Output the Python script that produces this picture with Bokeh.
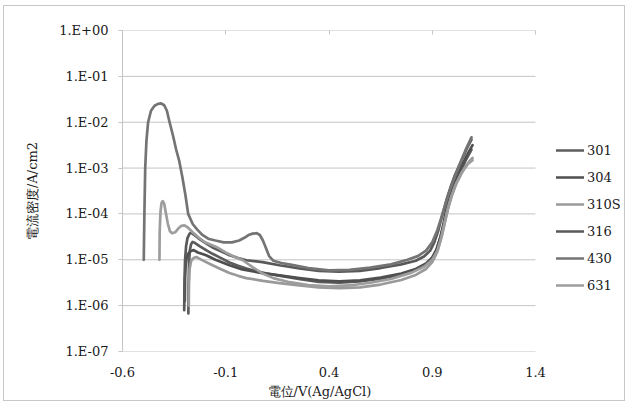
import numpy as np
from bokeh.plotting import figure
from bokeh.models import (Range1d, FixedTicker, LinearAxis, CustomJSTickFormatter,
                          Legend, LegendItem, ColumnDataSource, Title)
from bokeh.embed import file_html
from bokeh.resources import INLINE

# ---------------- data ----------------
series_names = ["301", "304", "310S", "316", "430", "631"]
series_colors = ["#5c5c5c", "#4f4f4f", "#9a9a9a", "#595959", "#747474", "#9d9d9d"]

# potential V(Ag/AgCl) and log10 of current density (A/cm2)
x_301 = [-0.281, -0.280, -0.278, -0.274, -0.268, -0.261, -0.250, -0.227, -0.195, -0.164, -0.120,
         -0.082, -0.040, 0.000, 0.050, 0.100, 0.180, 0.260, 0.350, 0.450, 0.550, 0.650, 0.750,
         0.820, 0.870, 0.900, 0.920, 0.940, 0.960, 0.980, 1.000, 1.030, 1.060, 1.090]
log_301 = [-6.17, -5.60, -5.10, -4.80, -4.66, -4.61, -4.63, -4.70, -4.79, -4.87, -4.97,
           -5.06, -5.13, -5.19, -5.25, -5.30, -5.36, -5.42, -5.48, -5.50, -5.47, -5.41, -5.32,
           -5.22, -5.10, -4.97, -4.80, -4.50, -4.15, -3.80, -3.50, -3.15, -2.85, -2.60]

x_304 = [-0.298, -0.297, -0.294, -0.288, -0.279, -0.268, -0.258, -0.251, -0.235, -0.195, -0.150,
         -0.082, -0.020, 0.078, 0.160, 0.257, 0.350, 0.450, 0.550, 0.650, 0.750, 0.820, 0.870,
         0.900, 0.920, 0.940, 0.955, 0.970, 0.990, 1.010, 1.040, 1.070, 1.095]
log_304 = [-5.90, -5.40, -5.10, -4.93, -4.85, -4.81, -4.79, -4.80, -4.84, -4.90, -5.00,
           -5.12, -5.21, -5.29, -5.34, -5.40, -5.45, -5.47, -5.45, -5.39, -5.30, -5.20, -5.08,
           -4.95, -4.78, -4.50, -4.20, -3.85, -3.55, -3.28, -2.98, -2.70, -2.50]

x_310s = [-0.279, -0.278, -0.275, -0.268, -0.258, -0.250, -0.243, -0.230, -0.200, -0.164, -0.120,
          -0.082, -0.040, -0.001, 0.080, 0.160, 0.257, 0.350, 0.450, 0.550, 0.650, 0.750, 0.820,
          0.870, 0.900, 0.925, 0.945, 0.960, 0.975, 0.995, 1.020, 1.050, 1.080, 1.095]
log_310s = [-6.00, -5.50, -5.20, -5.03, -4.97, -4.95, -4.94, -4.97, -5.04, -5.12, -5.21,
            -5.29, -5.35, -5.40, -5.46, -5.51, -5.56, -5.60, -5.62, -5.60, -5.54, -5.44, -5.33,
            -5.20, -5.05, -4.82, -4.50, -4.20, -3.90, -3.60, -3.30, -3.05, -2.85, -2.78]

x_316 = [-0.301, -0.300, -0.297, -0.292, -0.285, -0.275, -0.268, -0.255, -0.227, -0.190, -0.164,
         -0.120, -0.082, -0.040, 0.000, 0.078, 0.160, 0.257, 0.350, 0.450, 0.550, 0.650, 0.750,
         0.820, 0.860, 0.890, 0.910, 0.930, 0.950, 0.970, 0.990, 1.010, 1.040, 1.070, 1.090]
log_316 = [-6.10, -5.50, -5.00, -4.70, -4.52, -4.43, -4.41, -4.45, -4.55, -4.66, -4.73,
           -4.82, -4.90, -4.96, -5.01, -5.05, -5.12, -5.19, -5.24, -5.26, -5.24, -5.18, -5.10,
           -5.02, -4.93, -4.80, -4.62, -4.35, -4.00, -3.68, -3.40, -3.15, -2.85, -2.55, -2.38]

x_430 = [-0.497, -0.494, -0.490, -0.484, -0.476, -0.462, -0.445, -0.428, -0.413, -0.398, -0.385,
         -0.372, -0.355, -0.340, -0.325, -0.310, -0.295, -0.282, -0.260, -0.240, -0.215, -0.185,
         -0.150, -0.110, -0.070, -0.035, -0.010, 0.010, 0.030, 0.050, 0.065, 0.080, 0.095, 0.110,
         0.130, 0.170, 0.220, 0.300, 0.400, 0.500, 0.600, 0.700, 0.780, 0.830, 0.870, 0.900,
         0.925, 0.950, 0.975, 1.000, 1.030, 1.060, 1.090]
log_430 = [-5.00, -4.00, -3.00, -2.40, -2.00, -1.75, -1.64, -1.60, -1.59, -1.63, -1.75,
           -2.00, -2.30, -2.60, -2.85, -3.20, -3.60, -4.00, -4.22, -4.33, -4.45, -4.54,
           -4.58, -4.62, -4.62, -4.58, -4.52, -4.46, -4.43, -4.42, -4.46, -4.58, -4.75, -4.92,
           -5.02, -5.07, -5.11, -5.18, -5.23, -5.22, -5.17, -5.10, -5.00, -4.92, -4.80, -4.62,
           -4.35, -4.00, -3.62, -3.30, -2.95, -2.62, -2.33]

x_631 = [-0.421, -0.420, -0.416, -0.411, -0.405, -0.398, -0.390, -0.380, -0.370, -0.360, -0.345,
         -0.330, -0.315, -0.300, -0.285, -0.260, -0.230, -0.200, -0.146, -0.100, -0.050, -0.017,
         0.030, 0.079, 0.130, 0.200, 0.300, 0.400, 0.500, 0.600, 0.700, 0.800, 0.860, 0.900,
         0.925, 0.945, 0.960, 0.975, 0.990, 1.010, 1.040, 1.070, 1.095]
log_631 = [-5.00, -4.40, -3.95, -3.76, -3.72, -3.78, -3.98, -4.22, -4.38, -4.42, -4.40,
           -4.32, -4.26, -4.25, -4.29, -4.40, -4.52, -4.62, -4.72, -4.84, -4.95, -5.01,
           -5.16, -5.30, -5.40, -5.48, -5.55, -5.58, -5.56, -5.50, -5.42, -5.28, -5.15, -5.00,
           -4.80, -4.50, -4.20, -3.90, -3.65, -3.40, -3.12, -2.92, -2.83]

series_x = [x_301, x_304, x_310s, x_316, x_430, x_631]
series_log = [log_301, log_304, log_310s, log_316, log_430, log_631]

x_ticks = [-0.6, -0.1, 0.4, 0.9, 1.4]
x_tick_labels = ["-0.6", "-0.1", "0.4", "0.9", "1.4"]
y_ticks = [1e-7, 1e-6, 1e-5, 1e-4, 1e-3, 1e-2, 1e-1, 1e0]
y_tick_labels = ["1.E-07", "1.E-06", "1.E-05", "1.E-04", "1.E-03", "1.E-02", "1.E-01", "1.E+00"]

x_title = "電位/V(Ag/AgCl)"
y_title = "電流密度/A/cm2"

# ---------------- layout / style ----------------
FONT = "DejaVu Serif"
FS = "13px"
TXT = "#1a1a1a"
GRID = "#c4c4c4"
FIG_W, FIG_H = 622, 396
MB_L, MB_R, MB_T, MB_B = 118, 0, 24, 51
AXIS_PX = 413                      # pixel length of the -0.6 .. 1.4 axis
x_lo, x_hi = x_ticks[0], x_ticks[-1]
frame_w = FIG_W - MB_L - MB_R
x_end = x_lo + frame_w * (x_hi - x_lo) / AXIS_PX   # frame extends right to hold the legend

p = figure(width=FIG_W, height=FIG_H, output_backend="svg", toolbar_location=None,
           x_range=Range1d(x_lo, x_end), y_range=Range1d(y_ticks[0], y_ticks[-1]),
           y_axis_type="log",
           min_border_left=MB_L, min_border_right=MB_R, min_border_top=MB_T,
           min_border_bottom=MB_B,
           background_fill_color="white", border_fill_color="white")
p.margin = (5, 0, 0, 3)
p.styles = {"border": "1px solid #c8c8c8"}
p.outline_line_color = None

# horizontal gridlines only across the plot area (-0.6 .. 1.4)
p.segment(x0=[x_lo] * len(y_ticks), x1=[x_hi] * len(y_ticks), y0=y_ticks, y1=y_ticks,
          line_color=GRID, line_width=1)
p.xgrid.visible = False
p.ygrid.visible = False

renderers = []
for name, col, xs, ls in zip(series_names, series_colors, series_x, series_log):
    src = ColumnDataSource(dict(x=xs, y=np.power(10.0, np.array(ls))))
    r = p.line("x", "y", source=src, line_color=col, line_width=2.7, line_join="round",
               line_cap="round")
    renderers.append((name, r))

# bottom axis: labels only
xfmt = CustomJSTickFormatter(args=dict(vals=x_ticks, labels=x_tick_labels), code="""
let b = 0;
for (let i = 0; i < vals.length; i++) { if (Math.abs(vals[i]-tick) < Math.abs(vals[b]-tick)) b = i; }
return labels[b];
""")
xa = p.xaxis[0]
xa.ticker = FixedTicker(ticks=x_ticks)
xa.formatter = xfmt
xa.axis_line_color = None
xa.major_tick_line_color = None
xa.major_tick_out = 0
xa.major_tick_in = 0
xa.minor_tick_line_color = None
xa.major_label_text_font = FONT
xa.major_label_text_font_size = FS
xa.major_label_text_color = TXT
xa.major_label_standoff = 15

# x-axis title, centred under the -0.6 .. 1.4 span
xt = Title(text=x_title, align="left", offset=145, standoff=5, text_font=FONT,
           text_font_size=FS, text_font_style="normal", text_color=TXT)
p.add_layout(xt, "below")

# top axis: inward ticks only
top = LinearAxis(ticker=FixedTicker(ticks=x_ticks),
                 formatter=CustomJSTickFormatter(code="return '';"),
                 axis_line_color=None, major_tick_line_color=GRID,
                 major_tick_in=4, major_tick_out=0, minor_tick_line_color=None,
                 major_label_standoff=0, major_label_text_font_size="1px")
p.add_layout(top, "above")

# y axis
yfmt = CustomJSTickFormatter(args=dict(vals=y_ticks, labels=y_tick_labels), code="""
let b = 0;
const lt = Math.log10(tick);
for (let i = 0; i < vals.length; i++) {
  if (Math.abs(Math.log10(vals[i])-lt) < Math.abs(Math.log10(vals[b])-lt)) b = i;
}
return labels[b];
""")
ya = p.yaxis[0]
ya.ticker = FixedTicker(ticks=y_ticks)
ya.formatter = yfmt
ya.axis_line_color = GRID
ya.major_tick_line_color = GRID
ya.major_tick_out = 4
ya.major_tick_in = 0
ya.minor_tick_line_color = None
ya.major_label_text_font = FONT
ya.major_label_text_font_size = FS
ya.major_label_text_color = TXT
ya.major_label_standoff = 10
ya.axis_label = y_title
ya.axis_label_text_font = FONT
ya.axis_label_text_font_style = "normal"
ya.axis_label_text_font_size = FS
ya.axis_label_text_color = TXT
ya.axis_label_standoff = 16

legend = Legend(items=[LegendItem(label=n, renderers=[r]) for n, r in renderers],
                location=(434, 54), padding=0, spacing=3, glyph_height=24, glyph_width=28,
                label_height=24, label_standoff=3, label_text_font=FONT,
                label_text_font_size=FS, label_text_color=TXT,
                border_line_color=None, background_fill_alpha=0, margin=0)
p.add_layout(legend, "center")

open("out.html", "w").write(file_html(p, INLINE))
